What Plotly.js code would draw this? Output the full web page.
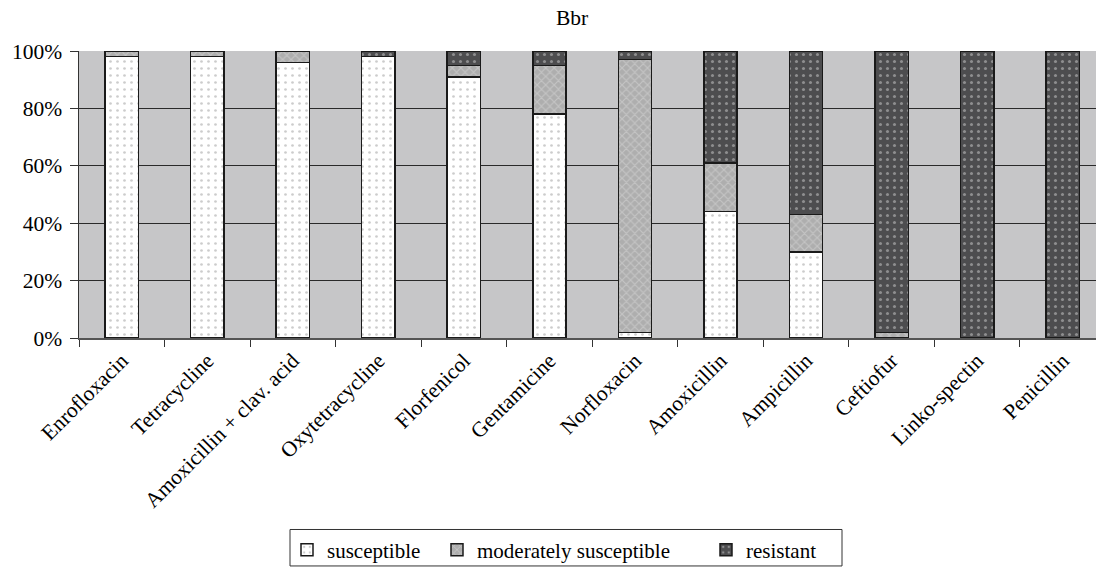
<!DOCTYPE html>
<html>
<head>
<meta charset="utf-8">
<script src="https://cdn.plot.ly/plotly-3.0.1.min.js"></script>
<style>
  html, body { margin: 0; padding: 0; background: #ffffff; }
  #chart { width: 1096px; height: 568px; }
  .legendtext { font-family: "Liberation Serif", serif !important; }
</style>
</head>
<body>
<div id="chart"></div>
<script>
const categories = ["Enrofloxacin", "Tetracycline", "Amoxicillin + clav. acid", "Oxytetracycline",
  "Florfenicol", "Gentamicine", "Norfloxacin", "Amoxicillin", "Ampicillin", "Ceftiofur",
  "Linko-spectin", "Penicillin"];
const susceptible = [98, 98, 96, 98, 91, 78, 2, 44, 30, 0, 0, 0];
const moderatelySusceptible = [2, 2, 4, 0, 4, 17, 95, 17, 13, 2, 0, 0];
const resistant = [0, 0, 0, 2, 5, 5, 3, 39, 57, 98, 100, 100];
const seriesNames = ["susceptible", "moderately susceptible", "resistant"];
const yTicks = [0, 20, 40, 60, 80, 100];

const FONT = "Liberation Serif, serif";
const line = { color: "#1a1a1a", width: 1.5 };

const traces = [
  {
    type: "bar", name: seriesNames[0], x: categories, y: susceptible, legend: "legend",
    marker: { color: "#ffffff", line: line,
      pattern: { shape: ".", bgcolor: "#ffffff", fgcolor: "#9a9a9a", size: 7, solidity: 0.12, fillmode: "overlay" } },
    hoverinfo: "skip"
  },
  {
    type: "bar", name: seriesNames[1], x: categories, y: moderatelySusceptible, legend: "legend2",
    marker: { color: "#b0b0b0", line: line,
      pattern: { shape: "x", bgcolor: "#aeaeae", fgcolor: "#dadada", size: 6, solidity: 0.35, fillmode: "overlay" } },
    hoverinfo: "skip"
  },
  {
    type: "bar", name: seriesNames[2], x: categories, y: resistant, legend: "legend3",
    marker: { color: "#4d4d4f", line: line,
      pattern: { shape: ".", bgcolor: "#4d4d4f", fgcolor: "#d0d0d0", size: 7, solidity: 0.15, fillmode: "overlay" } },
    hoverinfo: "skip"
  }
];

const W = 1096, H = 568;
function legendAt(px) {
  return {
    orientation: "h",
    xref: "container", x: px / W, xanchor: "left",
    yref: "container", y: 1 - 550 / H, yanchor: "middle",
    bgcolor: "rgba(0,0,0,0)", borderwidth: 0,
    font: { family: FONT, size: 21, color: "#000000" }, itemwidth: 30
  };
}

const layout = {
  width: W, height: H,
  margin: { l: 79, r: 0, t: 51, b: 230, pad: 0 },
  paper_bgcolor: "#ffffff",
  plot_bgcolor: "#c6c6c8",
  barmode: "stack",
  bargap: 0.61,
  font: { family: FONT, size: 21.5, color: "#000000" },
  title: {
    text: "Bbr", font: { family: FONT, size: 21.5, color: "#000000" },
    xref: "container", x: 0.522, xanchor: "center",
    yref: "container", y: 0.97, yanchor: "middle"
  },
  xaxis: {
    type: "category",
    range: [-0.5, 11.39],
    tickangle: -45,
    tickson: "boundaries",
    ticks: "outside", ticklen: 7, tickcolor: "#333333", tickwidth: 1,
    showline: true, linecolor: "#555555", linewidth: 1.5,
    showgrid: false,
    tickfont: { family: FONT, size: 21.5, color: "#000000" },
    fixedrange: true
  },
  yaxis: {
    range: [0, 100],
    tickvals: yTicks,
    ticktext: yTicks.map(v => v + "%"),
    ticks: "outside", ticklen: 8, tickcolor: "#333333", tickwidth: 1,
    showline: true, linecolor: "#333333", linewidth: 1.5,
    showgrid: true, gridcolor: "#2a2a2a", gridwidth: 1,
    zeroline: false,
    tickfont: { family: FONT, size: 21.5, color: "#000000" },
    ticklabelstandoff: 3,
    fixedrange: true
  },
  showlegend: true,
  legend: legendAt(287),
  legend2: legendAt(437),
  legend3: legendAt(706),
  shapes: [{
    type: "rect", xref: "paper", yref: "paper", layer: "above",
    x0: (290 - 79) / 1017, x1: (842 - 79) / 1017,
    y0: (338.3 - 530) / 287.3, y1: (338.3 - 566.5) / 287.3,
    line: { color: "#333333", width: 1 }, fillcolor: "rgba(0,0,0,0)"
  }]
};

Plotly.newPlot("chart", traces, layout, { staticPlot: true, displayModeBar: false });
</script>
</body>
</html>
